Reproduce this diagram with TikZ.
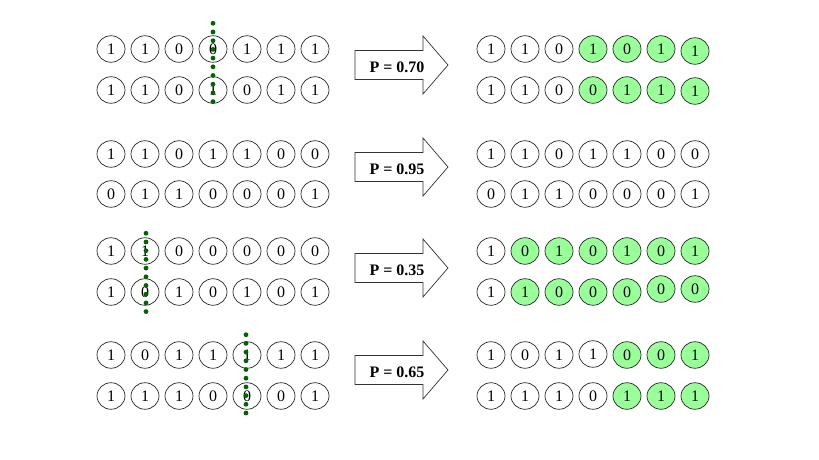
\documentclass[tikz,border=0pt]{standalone}
\usepackage{fontspec}
\setmainfont{Liberation Serif}
\usetikzlibrary{shapes.geometric}
\definecolor{lgreen}{RGB}{153,255,153}
\definecolor{dgreen}{RGB}{0,100,0}
\tikzset{
  bit/.style={ellipse,draw=black!85,line width=0.7pt,minimum width=28pt,minimum height=26.5pt,inner sep=0pt,font=\fontsize{16}{19}\selectfont},
  gbit/.style={fill=lgreen},
  cut/.style={dgreen,line width=4.8pt,line cap=round,dash pattern=on 0pt off 8.7pt},
  barrow/.style={draw=black!80,line width=0.7pt,fill=white},
  plabel/.style={font=\fontsize{16}{19}\selectfont\bfseries,inner sep=0pt}
}
% name, x0, y, list of digit/yoffset, first green index (8 = none)
\newcommand\bitrow[5]{%
  \foreach \d/\o [count=\i] in {#4} {
    \pgfmathsetmacro\xx{#2+34*(\i-1)}
    \pgfmathsetmacro\yy{#3+\o}
    \ifnum\i<#5\relax
      \node[bit] (#1-\i) at (\xx,\yy) {\d};
    \else
      \node[bit,gbit] (#1-\i) at (\xx,\yy) {\d};
    \fi
  }}
\newcommand\parrow[3]{% name, center y, label
  \draw[barrow] (355,#2-14.5) -- (423,#2-14.5) -- (423,#2-29) -- (448,#2) -- (423,#2+29) -- (423,#2+14.5) -- (355,#2+14.5) -- cycle;
  \node[plabel] (#1) at (397,#2+2.5) {#3};
}
\begin{document}
\begin{tikzpicture}[x=1pt,y=-1pt]
\useasboundingbox (0,0) rectangle (819,460);
% group 1
\bitrow{a1}{111}{49}{1/0,1/0,0/0,0/0,1/0,1/0,1/0}{8}
\bitrow{a2}{111}{90}{1/0,1/0,0/0,1/0,0/0,1/0,1/0}{8}
\bitrow{A1}{491}{49}{1/0,1/0,0/0,1/0,0/0,1/0,1/2}{4}
\bitrow{A2}{491}{90}{1/0,1/0,0/0,0/0,1/0,1/0,1/1}{4}
\parrow{p1}{65}{P = 0.70}
\coordinate (c1t) at (213,23.3);
\coordinate (c1b) at (213,101.7);
\draw[cut] (c1t) -- (c1b);
% group 2
\bitrow{b1}{111}{154}{1/0,1/0,0/0,1/0,1/0,0/0,0/0}{8}
\bitrow{b2}{111}{194}{0/0,1/0,1/0,0/0,0/0,0/0,1/0}{8}
\bitrow{B1}{491}{154}{1/0,1/0,0/0,1/0,1/0,0/0,0/0}{8}
\bitrow{B2}{491}{194}{0/0,1/0,1/0,0/0,0/0,0/0,1/0}{8}
\parrow{p2}{167}{P = 0.95}
% group 3
\bitrow{c1}{111}{251}{1/0,1/0,0/0,0/0,0/0,0/0,0/0}{8}
\bitrow{c2}{111}{292}{1/0,0/0,1/0,0/0,1/0,0/0,1/0}{8}
\bitrow{C1}{491}{251}{1/0,0/0,1/0,0/0,1/0,0/0,1/0}{2}
\bitrow{C2}{491}{292}{1/0,1/0,0/0,0/0,0/0,0/-3,0/-3}{2}
\parrow{p3}{268}{P = 0.35}
\coordinate (c3t) at (146,233.3);
\coordinate (c3b) at (146,312.3);
\draw[cut] (c3t) -- (c3b);
% group 4
\bitrow{d1}{111}{355}{1/0,0/0,1/0,1/0,1/0,1/0,1/0}{8}
\bitrow{d2}{111}{396}{1/0,1/0,1/0,0/0,0/0,0/0,1/0}{8}
\bitrow{D1}{491}{355}{1/0,0/0,1/0,1/-1,0/0,0/0,1/0}{5}
\bitrow{D2}{491}{396}{1/0,1/0,1/0,0/0,1/0,1/0,1/0}{5}
\parrow{p4}{370}{P = 0.65}
\coordinate (c4t) at (246,334.7);
\coordinate (c4b) at (246,413.3);
\draw[cut] (c4t) -- (c4b);
\end{tikzpicture}
\end{document}
